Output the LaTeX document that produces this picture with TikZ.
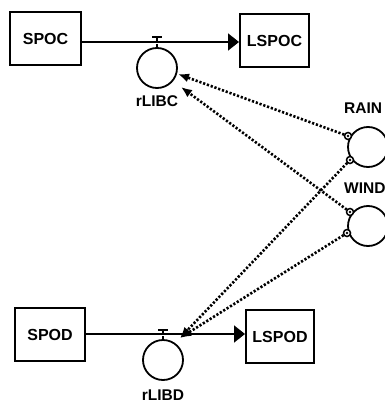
\documentclass[tikz,border=0pt]{standalone}
\usepackage{fontspec}
\setmainfont{Liberation Sans}
\usetikzlibrary{arrows.meta}
\begin{document}
\begin{tikzpicture}[x=1pt,y=-1pt,
  stock/.style={draw,line width=2pt,minimum width=#1,minimum height=53pt,inner sep=0pt,font=\bfseries\fontsize{16}{16}\selectfont},
  aux/.style={draw,circle,line width=1.8pt,minimum size=40pt,inner sep=0pt},
  lbl/.style={font=\bfseries\fontsize{15.5}{15.5}\selectfont,inner sep=0pt},
  flow/.style={line width=1.8pt,-{Triangle[length=11pt,width=17pt]}},
  info/.style={line width=2.6pt,dash pattern=on 2.2pt off 1.8pt,-{Latex[length=11pt,width=9pt]}},
  port/.style={draw,circle,line width=1.5pt,minimum size=7pt,inner sep=0pt,fill=white}
]
\clip (0,0) rectangle (385,404);
\useasboundingbox (0,0) rectangle (385,404);
% stocks
\node[stock=71pt] (SPOC) at (45.5,38.5) {SPOC};
\node[stock=69pt] (LSPOC) at (274.5,40.5) {LSPOC};
\node[stock=70pt] (SPOD) at (50,334.5) {SPOD};
\node[stock=68pt] (LSPOD) at (280,336.5) {LSPOD};
% rate circles
\node[aux] (rLIBC) at (157,68) {};
\node[lbl] at (157,101) {rLIBC};
\node[aux] (rLIBD) at (163,360) {};
\node[lbl] at (163,395) {rLIBD};
% exogenous
\node[aux] (RAIN) at (368,147) {};
\node[lbl,anchor=west] at (344,108) {RAIN};
\node[aux] (WIND) at (368,226) {};
\node[lbl,anchor=west] at (344,188) {WIND};
% valves
\coordinate (vC) at (157,42);
\coordinate (vD) at (163,334);
\draw[flow] (vC -| SPOC.east) -- (vC -| LSPOC.west);
\draw[flow] (vD -| SPOD.east) -- (vD -| LSPOD.west);
\foreach \v/\c in {vC/rLIBC,vD/rLIBD}{
  \draw[line width=1.6pt] (\v) -- ++(0,-4.5);
  \draw[line width=2pt] ([shift={(-5,-4.5)}]\v) -- ++(10,0);
  \draw[line width=1.4pt] (\c.north) -- ++(0,-3);
}
% ports
\coordinate (r1) at (348,136);
\coordinate (r2) at (350,160);
\coordinate (w1) at (350,212);
\coordinate (w2) at (347,233);
\coordinate (c1) at (178,74);
\coordinate (c2) at (181,87);
\coordinate (d1) at (180,338);
% information links
\draw[info] (r1) -- (c1);
\draw[info] (w1) -- (c2);
\draw[info] (r2) -- (d1);
\draw[info] (w2) -- (d1);
\foreach \p in {r1,r2,w1,w2}{
  \node[port] at (\p) {};
  \fill (\p) circle (1.4pt);
}
\end{tikzpicture}
\end{document}
